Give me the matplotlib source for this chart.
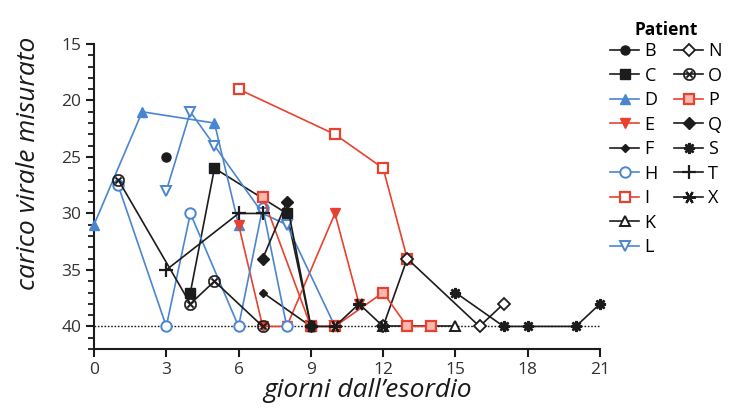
import matplotlib
matplotlib.use("Agg")
import matplotlib.pyplot as plt
from matplotlib.lines import Line2D

plt.rcParams['font.family'] = ['Open Sans', 'DejaVu Sans']

# ---- data (day since onset, measured viral load Ct) ----
patients = ["B", "C", "D", "E", "F", "H", "I", "K", "L",
            "N", "O", "P", "Q", "S", "T", "X"]

days_B = [3];                         vals_B = [25]
days_C = [4, 5, 8, 9];                vals_C = [37, 26, 30, 40]
days_D = [0, 2, 5, 6];                vals_D = [31, 21, 22, 31]
days_E = [6, 7, 8, 10, 11];           vals_E = [31, 40, 40, 30, 38]
days_F = [7, 9];                      vals_F = [37, 40]
days_H = [1, 3, 4, 6, 7, 8];          vals_H = [27.5, 40, 30, 40, 29.5, 40]
days_I = [6, 10, 12, 13];             vals_I = [19, 23, 26, 34]
days_K = [12, 14, 15];                vals_K = [40, 40, 40]
days_L = [3, 4, 5, 7, 8, 10];         vals_L = [28, 21, 24, 30, 31, 40]
days_N = [12, 13, 16, 17];            vals_N = [40, 34, 40, 38]
days_O = [1, 4, 5, 7];                vals_O = [27, 38, 36, 40]
days_P = [7, 9, 10, 12, 13, 14];      vals_P = [28.5, 40, 40, 37, 40, 40]
days_Q = [7, 8, 9];                   vals_Q = [34, 29, 40]
days_S = [15, 17, 18, 20, 21];        vals_S = [37, 40, 40, 40, 38]
days_T = [3, 6, 7];                   vals_T = [35, 30, 30]
days_X = [9, 10, 11, 12];             vals_X = [40, 40, 38, 40]

threshold = 40
x_ticks = [0, 3, 6, 9, 12, 15, 18, 21]
y_ticks = [15, 20, 25, 30, 35, 40]

data = {
    "B": (days_B, vals_B), "C": (days_C, vals_C), "D": (days_D, vals_D),
    "E": (days_E, vals_E), "F": (days_F, vals_F), "H": (days_H, vals_H),
    "I": (days_I, vals_I), "K": (days_K, vals_K), "L": (days_L, vals_L),
    "N": (days_N, vals_N), "O": (days_O, vals_O), "P": (days_P, vals_P),
    "Q": (days_Q, vals_Q), "S": (days_S, vals_S), "T": (days_T, vals_T),
    "X": (days_X, vals_X),
}

BLK = "#1c1c1c"
BLU = "#4a86cf"
RED = "#e8412f"

styles = {
    "B": dict(color=BLK, marker="o", ms=6.5, mfc=BLK),
    "C": dict(color=BLK, marker="s", ms=6.5, mfc=BLK),
    "D": dict(color=BLU, marker="^", ms=6.5, mfc=BLU),
    "E": dict(color=RED, marker="v", ms=6.5, mfc=RED),
    "F": dict(color=BLK, marker="D", ms=4.5, mfc=BLK),
    "H": dict(color=BLU, marker="o", ms=7.5, mfc="white", mew=1.4),
    "I": dict(color=RED, marker="s", ms=7.5, mfc="white", mew=1.6),
    "K": dict(color=BLK, marker="^", ms=7.5, mfc="white", mew=1.4),
    "L": dict(color=BLU, marker="v", ms=7.5, mfc="white", mew=1.4),
    "N": dict(color=BLK, marker="D", ms=6.0, mfc="white", mew=1.3),
    "O": dict(color=BLK, marker=r"$\otimes$", ms=9, mfc=BLK, mew=0.3),
    "P": dict(color=RED, marker="s", ms=7.5, mfc="#f6b9b0", mew=1.6),
    "Q": dict(color=BLK, marker="D", ms=6.0, mfc=BLK),
    "S": dict(color=BLK, marker=(8, 2, 0), ms=8, mew=1.8),
    "T": dict(color=BLK, marker="+", ms=10, mew=1.6),
    "X": dict(color=BLK, marker=(6, 2, 90), ms=9, mew=1.6),
}

fig = plt.figure(figsize=(7.4, 4.08), dpi=100)
ax = fig.add_axes([94 / 740, 1 - 349 / 408, (600 - 94) / 740, (349 - 44) / 408])

ax.axhline(threshold, color=BLK, lw=1.0, ls=(0, (1.2, 1.2)), zorder=1)

handles = []
for p in patients:
    d, v = data[p]
    st = dict(styles[p])
    col = st.pop("color")
    mfc = st.pop("mfc", col)
    mew = st.pop("mew", 1.0)
    ms = st.pop("ms")
    mk = st.pop("marker")
    ln, = ax.plot(d, v, color=col, lw=1.2, marker=mk, ms=ms, mfc=mfc,
                  mec=col, mew=mew, label=p, zorder=3, clip_on=False)
    handles.append(ln)

ax.set_xlim(0, 21)
ax.set_ylim(42, 15)
ax.set_xticks(x_ticks)
ax.set_yticks(y_ticks)
ax.set_yticks(range(15, 43), minor=True)
for s in ["top", "right"]:
    ax.spines[s].set_visible(False)
for s in ["left", "bottom"]:
    ax.spines[s].set_linewidth(1.5)
    ax.spines[s].set_color(BLK)
ax.tick_params(axis="both", which="major", length=6, width=1.5, color=BLK,
               labelsize=12.5, labelcolor="#333333", pad=3)
ax.tick_params(axis="y", which="minor", length=4, width=1.3, color=BLK)

ax.set_xlabel("giorni dall\u2019esordio", fontsize=19, style="italic",
              color="#1a1a1a")
ax.xaxis.set_label_coords((368 - 94) / 506, -0.095)
ax.set_ylabel("carico virale misurato", fontsize=19, style="italic",
              color="#1a1a1a")
ax.yaxis.set_label_coords(-0.105, 0.61)

# legend: 9 entries in first column, 7 in second
blank = Line2D([], [], alpha=0)
leg_handles = handles + [blank] * 2
leg_labels = patients + [""] * 2
leg = fig.legend(leg_handles, leg_labels, loc="upper left",
                 bbox_to_anchor=(594 / 740, 1 - 5 / 408), ncol=2,
                 frameon=False, fontsize=13, handlelength=1.6,
                 handletextpad=0.3, columnspacing=0.9, labelspacing=0.36,
                 title="Patient", title_fontproperties={"weight": "bold", "size": 12.5})
leg._legend_box.align = "center"
leg._legend_box.sep = 2

fig.savefig("out.png", dpi=100)
